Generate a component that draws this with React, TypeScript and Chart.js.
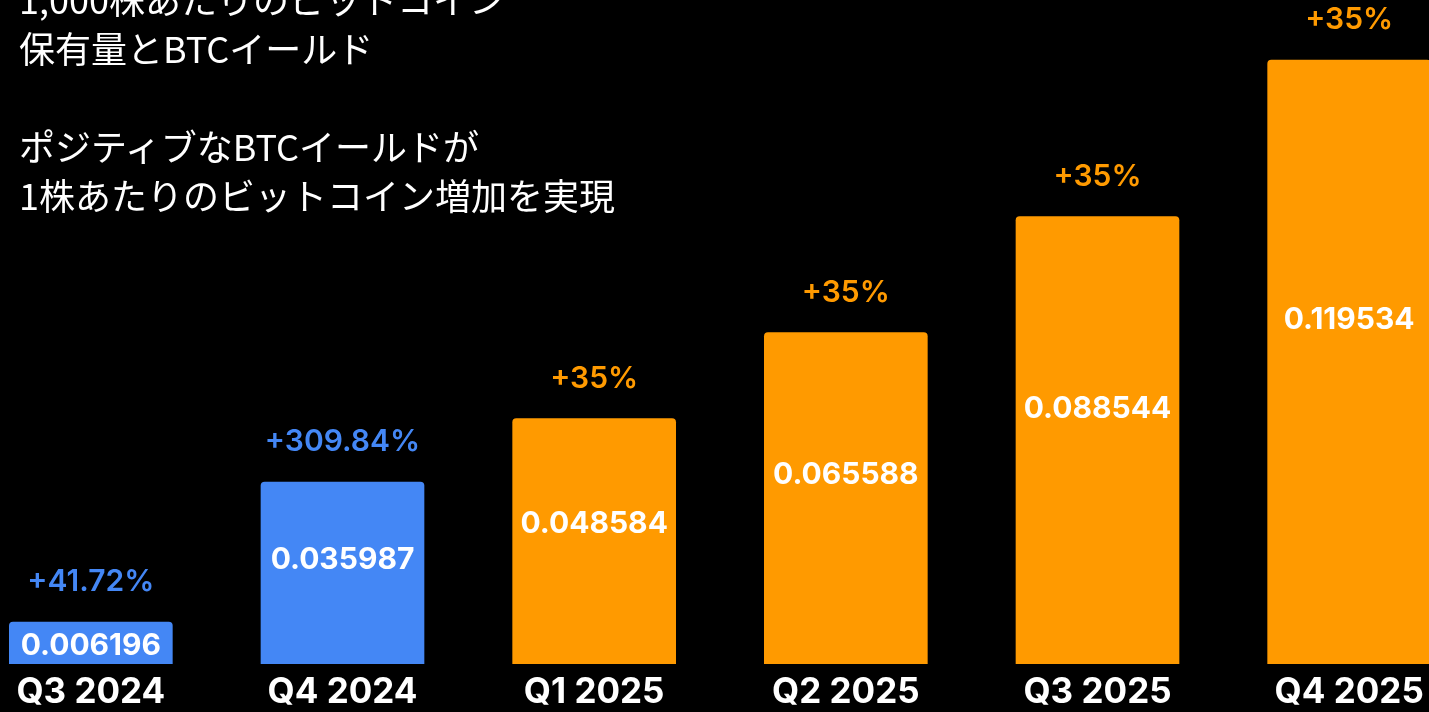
import React, { useEffect, useRef } from "react";
import { Chart, registerables } from "chart.js";

Chart.register(...registerables);

const categories = ["Q3 2024", "Q4 2024", "Q1 2025", "Q2 2025", "Q3 2025", "Q4 2025"];
const btcPer1000Shares = [0.006196, 0.035987, 0.048584, 0.065588, 0.088544, 0.119534];
const btcYieldLabels = ["+41.72%", "+309.84%", "+35%", "+35%", "+35%", "+35%"];
const isActual = [true, true, false, false, false, false];

const BLUE = "#4487F5";
const ORANGE = "#FF9A00";
const barColors = isActual.map((a) => (a ? BLUE : ORANGE));

const titleLines = [
  "1,000株あたりのビットコイン",
  "保有量とBTCイールド",
  "",
  "ポジティブなBTCイールドが",
  "1株あたりのビットコイン増加を実現",
];

const labelPlugin = {
  id: "barLabels",
  afterDatasetsDraw(chart: any) {
    const ctx = chart.ctx;
    const meta = chart.getDatasetMeta(0);
    const yScale = chart.scales.y;
    ctx.save();
    ctx.textAlign = "center";
    ctx.textBaseline = "middle";
    meta.data.forEach((bar: any, i: number) => {
      const v = btcPer1000Shares[i];
      let yv = yScale.getPixelForValue(v * 0.57);
      if (yv < bar.y + 8) yv = bar.y + 8;
      ctx.fillStyle = "#ffffff";
      ctx.font = "700 30px Inter, 'DejaVu Sans', sans-serif";
      ctx.fillText(v.toFixed(6), bar.x, yv);
      ctx.fillStyle = barColors[i];
      ctx.font = "600 30px Inter, 'DejaVu Sans', sans-serif";
      ctx.fillText(btcYieldLabels[i], bar.x, bar.y - 40);
    });
    ctx.restore();
  },
};

export default function App() {
  const canvasRef = useRef<HTMLCanvasElement | null>(null);

  useEffect(() => {
    const canvas = canvasRef.current;
    if (!canvas) return;
    const chart = new Chart(canvas, {
      type: "bar",
      data: {
        labels: categories,
        datasets: [
          {
            data: btcPer1000Shares,
            backgroundColor: barColors,
            borderWidth: 0,
            borderRadius: 4,
            barThickness: 163,
            minBarLength: 42,
          },
        ],
      },
      options: {
        animation: false,
        responsive: false,
        devicePixelRatio: 1,
        layout: { padding: 0 },
        plugins: {
          legend: { display: false },
          tooltip: { enabled: false },
          title: { display: false },
        },
        scales: {
          x: {
            grid: { display: false, drawTicks: false },
            border: { display: false },
            ticks: {
              color: "#ffffff",
              padding: 7,
              font: { family: "Inter, 'DejaVu Sans', sans-serif", size: 35, weight: "bold", lineHeight: 1.2 },
            },
          },
          y: {
            display: false,
            min: 0,
            max: 0.1314,
          },
        },
      },
      plugins: [labelPlugin],
    });
    return () => chart.destroy();
  }, []);

  return (
    <div
      style={{
        position: "fixed",
        left: 0,
        top: 0,
        width: "100vw",
        height: "100vh",
        background: "#000000",
        overflow: "hidden",
      }}
    >
      <canvas
        ref={canvasRef}
        width={1510}
        height={720}
        style={{ position: "absolute", left: -35, top: 0, width: 1510, height: 720 }}
      />
      <div
        style={{
          position: "absolute",
          left: 19,
          top: -26,
          color: "#ffffff",
          fontFamily: "'Noto Sans CJK JP', sans-serif",
          fontWeight: 400,
          fontSize: 36,
          lineHeight: "49px",
          whiteSpace: "pre",
        }}
      >
        {titleLines.map((l, i) => (
          <div key={i} style={{ height: 49 }}>
            {l}
          </div>
        ))}
      </div>
    </div>
  );
}
